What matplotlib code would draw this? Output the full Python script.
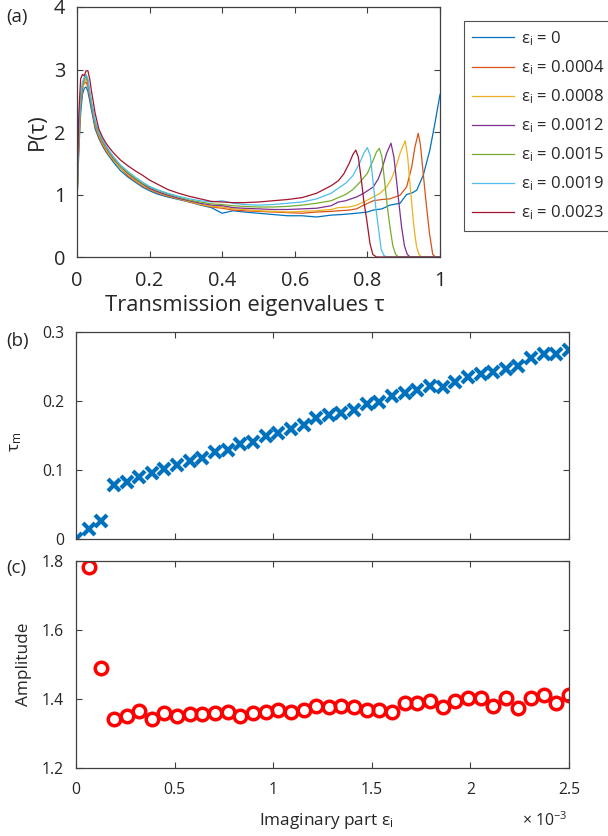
import numpy as np
import matplotlib
matplotlib.use("Agg")
import matplotlib.pyplot as plt

plt.rcParams['font.family'] = ['Open Sans', 'DejaVu Sans']
plt.rcParams['mathtext.fontset'] = 'custom'
plt.rcParams['mathtext.rm'] = 'Open Sans'
plt.rcParams['mathtext.it'] = 'Open Sans:italic'

# ---- data ----
eps_labels = ['0', '0.0004', '0.0008', '0.0012', '0.0015', '0.0019', '0.0023']
colors = ['#0072BD', '#D95319', '#EDB120', '#7E2F8E', '#77AC30', '#4DBEEE', '#A2142F']

tau_left = [0, .005, .01, .015, .02, .025, .03, .035, .04, .05, .06, .07, .08, .09, .1,
            .12, .14, .16, .18, .2, .22, .25, .28, .31, .34, .37, .4, .43, .46, .5,
            .54, .58, .62, .66, .7]
p_left = [
    [0.85, 1.7, 2.3, 2.6, 2.7, 2.72, 2.65, 2.5, 2.35, 2.05, 1.9, 1.78, 1.68, 1.6, 1.52,
     1.38, 1.28, 1.2, 1.12, 1.06, 1.01, 0.96, 0.92, 0.88, 0.83, 0.79, 0.70, 0.74, 0.72, 0.70,
     0.68, 0.66, 0.66, 0.64, 0.67],
    [0.85, 1.8, 2.4, 2.7, 2.78, 2.8, 2.72, 2.55, 2.4, 2.1, 1.92, 1.8, 1.7, 1.62, 1.55,
     1.42, 1.3, 1.22, 1.14, 1.08, 1.03, 0.97, 0.93, 0.88, 0.84, 0.80, 0.78, 0.75, 0.74, 0.73,
     0.72, 0.71, 0.70, 0.72, 0.73],
    [0.9, 1.8, 2.45, 2.7, 2.8, 2.85, 2.78, 2.6, 2.45, 2.12, 1.95, 1.82, 1.72, 1.63, 1.56,
     1.42, 1.32, 1.23, 1.15, 1.09, 1.04, 0.98, 0.93, 0.89, 0.84, 0.81, 0.80, 0.77, 0.76, 0.74,
     0.73, 0.72, 0.73, 0.74, 0.76],
    [0.9, 1.9, 2.5, 2.75, 2.85, 2.9, 2.8, 2.62, 2.45, 2.15, 1.98, 1.85, 1.75, 1.66, 1.58,
     1.45, 1.34, 1.25, 1.17, 1.1, 1.05, 0.99, 0.94, 0.9, 0.86, 0.83, 0.82, 0.79, 0.78, 0.77,
     0.76, 0.76, 0.77, 0.78, 0.82],
    [0.9, 1.9, 2.5, 2.75, 2.85, 2.9, 2.82, 2.62, 2.45, 2.15, 1.98, 1.86, 1.76, 1.67, 1.59,
     1.45, 1.35, 1.26, 1.18, 1.12, 1.07, 1.01, 0.96, 0.91, 0.88, 0.85, 0.84, 0.82, 0.81, 0.80,
     0.80, 0.81, 0.83, 0.86, 0.90],
    [0.95, 2.0, 2.6, 2.8, 2.88, 2.92, 2.85, 2.65, 2.48, 2.18, 2.0, 1.88, 1.78, 1.69, 1.61,
     1.47, 1.37, 1.28, 1.2, 1.13, 1.08, 1.02, 0.97, 0.93, 0.9, 0.88, 0.90, 0.86, 0.84, 0.83,
     0.84, 0.86, 0.88, 0.93, 1.02],
    [1.0, 2.3, 2.85, 2.92, 2.9, 2.98, 2.98, 2.85, 2.65, 2.3, 2.05, 1.92, 1.82, 1.74, 1.67,
     1.55, 1.46, 1.38, 1.31, 1.23, 1.17, 1.08, 1.02, 0.97, 0.93, 0.89, 0.88, 0.87, 0.87, 0.88,
     0.90, 0.92, 0.95, 1.02, 1.14],
]
tau_right = [
    [0.73, 0.77, 0.80, 0.816, 0.84, 0.862, 0.89, 0.908, 0.925, 0.936, 0.954, 0.972, 0.986, 1.0],
    [0.72, 0.75, 0.77, 0.79, 0.816, 0.84, 0.862, 0.89, 0.908, 0.922, 0.931, 0.94, 0.946, 0.952,
     0.961, 0.971, 0.98, 0.988, 1.0],
    [0.72, 0.75, 0.77, 0.79, 0.816, 0.835, 0.853, 0.866, 0.876, 0.89, 0.904, 0.911, 0.917, 0.923,
     0.928, 0.935, 0.942, 0.95, 1.0],
    [0.72, 0.74, 0.77, 0.79, 0.816, 0.83, 0.839, 0.853, 0.865, 0.873, 0.881, 0.888, 0.894, 0.902,
     0.91, 0.918, 1.0],
    [0.72, 0.74, 0.76, 0.78, 0.80, 0.816, 0.825, 0.833, 0.84, 0.848, 0.855, 0.862, 0.87, 0.878,
     0.886, 1.0],
    [0.72, 0.74, 0.76, 0.78, 0.79, 0.80, 0.808, 0.816, 0.823, 0.83, 0.838, 0.846, 0.855, 1.0],
    [0.72, 0.735, 0.75, 0.76, 0.768, 0.775, 0.784, 0.79, 0.798, 0.807, 0.815, 0.825, 1.0],
]
p_right = [
    [0.68, 0.70, 0.72, 0.75, 0.77, 0.83, 0.86, 1.0, 1.03, 1.07, 1.31, 1.71, 2.14, 2.6],
    [0.74, 0.75, 0.77, 0.83, 0.90, 0.92, 0.93, 0.99, 1.12, 1.44, 1.76, 1.98, 1.8, 1.44,
     0.91, 0.38, 0.04, 0.0, 0.0],
    [0.79, 0.80, 0.83, 0.88, 0.96, 1.02, 1.12, 1.25, 1.39, 1.66, 1.86, 1.6, 1.18, 0.8,
     0.49, 0.18, 0.04, 0.0, 0.0],
    [0.88, 0.90, 0.96, 1.02, 1.12, 1.25, 1.39, 1.66, 1.82, 1.6, 1.18, 0.8, 0.49, 0.18,
     0.04, 0.0, 0.0],
    [0.95, 1.0, 1.08, 1.2, 1.34, 1.55, 1.68, 1.74, 1.6, 1.18, 0.8, 0.49, 0.18, 0.04,
     0.0, 0.0],
    [1.1, 1.18, 1.3, 1.52, 1.66, 1.75, 1.62, 1.18, 0.8, 0.48, 0.12, 0.02, 0.0, 0.0],
    [1.22, 1.33, 1.5, 1.64, 1.71, 1.6, 1.2, 0.9, 0.6, 0.22, 0.04, 0.0, 0.0],
]

eps_i = np.linspace(0, 2.5e-3, 40)
tau_m = [0.0, 0.014, 0.026, 0.078, 0.082, 0.090, 0.095, 0.102, 0.107, 0.113,
         0.118, 0.126, 0.129, 0.137, 0.141, 0.149, 0.154, 0.159, 0.165, 0.175,
         0.179, 0.182, 0.187, 0.196, 0.199, 0.207, 0.212, 0.216, 0.222, 0.221,
         0.227, 0.235, 0.239, 0.242, 0.247, 0.251, 0.263, 0.268, 0.268, 0.274]
amplitude = [1.782, 1.489, 1.341, 1.352, 1.364, 1.341, 1.360, 1.351, 1.357, 1.357,
             1.359, 1.363, 1.351, 1.360, 1.363, 1.368, 1.363, 1.368, 1.380, 1.378,
             1.381, 1.378, 1.368, 1.368, 1.363, 1.389, 1.389, 1.394, 1.378, 1.395,
             1.402, 1.402, 1.380, 1.402, 1.373, 1.402, 1.412, 1.388, 1.412]
eps_ticks = [0, 0.5e-3, 1e-3, 1.5e-3, 2e-3, 2.5e-3]
eps_ticklabels = ['0', '0.5', '1', '1.5', '2', '2.5']

# ---- figure ----
W, H = 608, 836
fig = plt.figure(figsize=(W / 100, H / 100), dpi=100)
axc = '#404040'
txt = '#262626'


def box(l, t, r, b):
    return fig.add_axes([l / W, 1 - b / H, (r - l) / W, (b - t) / H])


def style(ax, fs, xpad, ypad):
    for s in ax.spines.values():
        s.set_color(axc)
        s.set_linewidth(0.9)
    ax.tick_params(direction='in', top=True, right=True, length=4, width=0.8,
                   colors=axc, labelcolor=txt, labelsize=fs)
    ax.tick_params(axis='x', pad=xpad)
    ax.tick_params(axis='y', pad=ypad)


# (a)
ax1 = box(77, 7, 440, 257)
for k in range(7):
    ax1.plot(tau_left + tau_right[k], p_left[k] + p_right[k], color=colors[k], lw=0.9,
             label='ε$_{\\mathrm{i}}$ = ' + eps_labels[k])
ax1.set_xlim(0, 1)
ax1.set_ylim(0, 4)
ax1.set_xticks([0, 0.2, 0.4, 0.6, 0.8, 1])
ax1.set_xticklabels(['0', '0.2', '0.4', '0.6', '0.8', '1'])
ax1.set_yticks([0, 1, 2, 3, 4])
style(ax1, 14.4, 10, 8.5)
ax1.set_xlabel('Transmission eigenvalues τ', fontsize=15.8, color=txt)
ax1.xaxis.set_label_coords(0.461, -0.15)
ax1.set_ylabel('P(τ)', fontsize=15.8, color=txt)
ax1.yaxis.set_label_coords(-0.08, 0.5)
leg = ax1.legend(loc='upper left', bbox_to_anchor=(464 / W, 1 - 21 / H),
                 bbox_transform=fig.transFigure, fontsize=12, frameon=True,
                 fancybox=False, edgecolor=txt, handlelength=2.5,
                 labelspacing=0.62, borderpad=0.5, handletextpad=0.4, borderaxespad=0)
leg.get_frame().set_linewidth(0.8)
for t in leg.get_texts():
    t.set_color(txt)

# (b)
ax2 = box(76, 332, 569, 539)
ax2.plot(eps_i, tau_m, 'x', color='#0072BD', ms=9, mew=3)
ax2.set_xlim(0, 2.5e-3)
ax2.set_ylim(0, 0.3)
ax2.set_yticks([0, 0.1, 0.2, 0.3])
ax2.set_yticklabels(['0', '0.1', '0.2', '0.3'])
ax2.set_xticks(eps_ticks)
ax2.set_xticklabels([])
style(ax2, 11.3, 10, 8.5)
ax2.set_ylabel('τ$_{\\mathrm{m}}$', fontsize=12.4, color=txt)
ax2.yaxis.set_label_coords(-0.105, 0.47)

# (c)
ax3 = box(76, 561, 569, 768)
ax3.plot(eps_i[1:], amplitude, 'o', mfc='none', mec='#FF0000', ms=9, mew=2.5)
ax3.set_xlim(0, 2.5e-3)
ax3.set_ylim(1.2, 1.8)
ax3.set_yticks([1.2, 1.4, 1.6, 1.8])
ax3.set_xticks(eps_ticks)
ax3.set_xticklabels(eps_ticklabels)
style(ax3, 11.3, 10, 8.5)
ax3.set_xlabel('Imaginary part ε$_{\\mathrm{i}}$', fontsize=12.4, color=txt)
ax3.xaxis.set_label_coords(0.508, -0.21)
ax3.set_ylabel('Amplitude', fontsize=12.4, color=txt)
ax3.yaxis.set_label_coords(-0.089, 0.5)
fig.text(567 / W, 1 - 826 / H, '× 10$^{\\mathrm{-3}}$', fontsize=11.3, color=txt,
         ha='right', va='baseline')

fig.text(6 / W, 1 - 17 / H, '(a)', fontsize=13.5, color=txt, va='center')
fig.text(6 / W, 1 - 341 / H, '(b)', fontsize=13.5, color=txt, va='center')
fig.text(6 / W, 1 - 568 / H, '(c)', fontsize=13.5, color=txt, va='center')

fig.savefig('out.png', dpi=100)
